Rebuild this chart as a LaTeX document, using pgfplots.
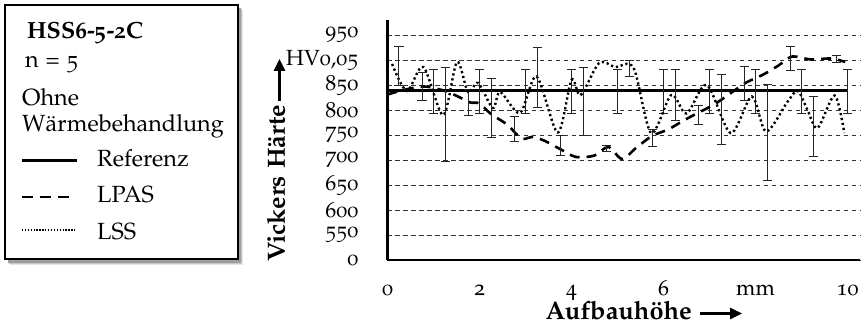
\documentclass[border=0pt]{standalone}
\usepackage[T1]{fontenc}
\usepackage[osf]{mathpazo}
\usepackage{pgfplots}
\pgfplotsset{compat=1.18}
\usetikzlibrary{arrows.meta}

\pgfplotsset{
  ebar/.style={draw=none, mark=none, forget plot,
    error bars/.cd, y dir=both, y explicit,
    error bar style={draw=black!85, line width=1bp, solid},
    error mark options={draw=black!85, rotate=90, line width=1bp, mark size=4.5bp, solid}},
}

\begin{document}
\begin{tikzpicture}
\useasboundingbox (-387.5bp,-68bp) rectangle (476.5bp,260bp);
% legend box with shadow
\fill[black!10] (-377.5bp,-4.5bp) rectangle (-144bp,250bp);
\fill[black!22] (-378.5bp,-3.5bp) rectangle (-145bp,251bp);
\fill[black!38] (-379.5bp,-2.5bp) rectangle (-146bp,252bp);
\draw[line width=2.5bp, fill=white] (-382.5bp,1bp) rectangle (-149.5bp,255bp);
\begin{scope}[every node/.style={anchor=base west, inner sep=0pt, font=\fontsize{23.5}{28}\selectfont}]
\node[font=\fontsize{23.5}{28}\selectfont\bfseries] at (-360.5bp,221bp) {HSS6-5-2C};
\node at (-362.5bp,192bp) {n = 5};
\node at (-365.5bp,154bp) {Ohne};
\node at (-365.5bp,128bp) {W\"armebehandlung};
\node at (-290.5bp,93bp) {Referenz};
\node at (-290.5bp,57bp) {LPAS};
\node at (-290.5bp,21bp) {LSS};
\end{scope}
\draw[line width=2.6bp] (-365.5bp,99.3bp) -- (-310.5bp,99.3bp);
\draw[line width=2.6bp, dash pattern=on 11.5bp off 6.5bp] (-365.5bp,63bp) -- (-317bp,63bp);
\draw[line width=1.5bp, dash pattern=on 1.3bp off 1.6bp] (-365.5bp,30bp) -- (-310.5bp,30bp);

\begin{axis}[
  scale only axis,
  width=472.9bp, height=240bp,
  xmin=0, xmax=10.28, ymin=500, ymax=980,
  axis x line=bottom, axis y line=left,
  axis line style={-, line width=2.5bp, black},
  xtick={0,2,4,6,8,10}, xticklabels={0,2,4,6,mm,10},
  ytick={500,550,600,650,700,750,800,850,900,950},
  yticklabels={0,550,600,650,700,750,800,850,{HV0,05},950},
  major tick length=0pt,
  tick label style={font=\fontsize{22}{25}\selectfont, inner sep=0pt},
  xticklabel style={anchor=base, yshift=-35bp},
  yticklabel style={anchor=east, xshift=-29bp},
  ymajorgrids,
  grid style={dash pattern=on 4.5bp off 3.5bp, black!80, line width=1bp},
]
% Referenz
\addplot[black, line width=2.8bp] coordinates {(0,838.5) (10,838.5)};
\addplot[ebar] coordinates {
 (1,837.5) +- (0,44.5) (2,837.5) +- (0,44.5) (3,837.5) +- (0,44.5)
 (4,837.5) +- (0,44.5) (5,837.5) +- (0,44.5) (6,837.5) +- (0,44.5)
 (7,837.5) +- (0,44.5) (8,837.5) +- (0,44.5) (9,837.5) +- (0,44.5)
 (10,837.5) +- (0,44.5)};
% LPAS
\addplot[black, line width=2.6bp, dash pattern=on 10bp off 7bp, smooth, tension=0.5] coordinates {
 (0,831) (0.35,840) (0.8,847) (1.25,838) (1.6,824) (1.8,815) (2.0,813)
 (2.25,792) (2.6,771) (2.8,752) (2.95,742) (3.15,746) (3.4,739) (3.75,722)
 (4.1,706) (4.5,709) (4.8,726) (5.1,702) (5.4,724) (5.75,748) (6.1,761)
 (6.4,777) (6.7,792) (7.1,811) (7.45,833) (7.8,855) (8.15,870) (8.5,889)
 (8.8,907) (9.2,901) (9.65,903) (9.95,896)};
\addplot[ebar] coordinates {
 (0.75,847) +- (0,28) (1.75,815.5) +- (0,25.5) (2.75,762) +- (0,25)
 (3.75,730) +- (0,20) (4.75,723.5) +- (0,6.5) (5.75,744) +- (0,17)
 (6.75,791) +- (0,19) (7.75,853) +- (0,34) (8.75,903.5) +- (0,23.5)
 (9.75,902.5) +- (0,6.5)};
% LSS
\addplot[black, line width=2.4bp, dash pattern=on 2.2bp off 2.8bp, smooth, tension=0.5] coordinates {
 (0.1,892) (0.42,838) (0.78,886) (1.21,790) (1.51,896) (1.75,836) (1.97,854)
 (2.29,804) (2.45,836) (2.88,794) (3.24,867) (3.7,755) (4.0,860) (4.2,830)
 (4.6,894) (4.95,886) (5.35,884) (5.73,754) (6.17,830) (6.5,793) (6.94,850)
 (7.46,754) (7.92,827) (8.23,757) (8.7,817) (8.92,838) (9.13,800) (9.35,764)
 (9.72,829) (9.93,754)};
\addplot[ebar] coordinates {
 (0.25,888) +- (0,39) (1.25,791.5) +- (0,93.5) (2.25,804) +- (0,59)
 (3.25,865.5) +- (0,59.5) (4.25,817.5) +- (0,67.5) (5.25,883) +- (0,16)
 (6.25,830) +- (0,51) (7.25,801.5) +- (0,69.5) (8.25,755.5) +- (0,96.5)
 (9.25,767.5) +- (0,60.5)};
\end{axis}

% axis labels with arrows
\node[rotate=90, anchor=base west, inner sep=0pt, font=\fontsize{25}{30}\selectfont\bfseries] (yl) at (-102.5bp,-2bp) {Vickers H\"arte};
\draw[line width=2.6bp, -{Triangle[length=12bp,width=11bp]}] ([xshift=-5.5bp, yshift=4bp]yl.base east) -- ++(0,42bp);
\node[anchor=base west, inner sep=0pt, font=\fontsize{25.5}{30}\selectfont\bfseries] (xl) at (158bp,-59bp) {Aufbauh\"ohe};
\draw[line width=2.6bp, -{Triangle[length=12bp,width=11bp]}] ([xshift=8bp, yshift=5.5bp]xl.base east) -- ++(42bp,0);
\end{tikzpicture}
\end{document}
